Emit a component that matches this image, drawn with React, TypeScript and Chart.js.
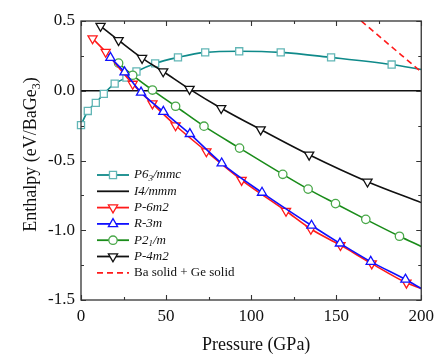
import React, { useEffect, useRef } from 'react';
import { Chart, registerables } from 'chart.js';

Chart.register(...registerables);

// ---------- data ----------
const xMin = 0, xMax = 200, xStep = 50, xMinor = 25;
const yMin = -1.5, yMax = 0.5, yStep = 0.5, yMinor = 0.25;

const p63Pressure = [0, 4, 8.7, 13.4, 19.8, 26.7, 32.6, 43.6, 57, 73, 93, 117.4, 147, 182.6];
const p63Enthalpy = [-0.246, -0.145, -0.087, -0.022, 0.051, 0.094, 0.138, 0.196, 0.239, 0.275, 0.283, 0.275, 0.239, 0.188];
const p63End = [200, 0.152];

const i4Pressure = [0, 200];
const i4Enthalpy = [0, 0];

const p6m2Pressure = [6.8, 14.5, 30.4, 42, 55.6, 73.7, 94.4, 120.5, 135.1, 152.5, 170.9, 191.3];
const p6m2Enthalpy = [0.375, 0.278, 0.049, -0.092, -0.249, -0.435, -0.64, -0.862, -0.991, -1.107, -1.239, -1.377];
const p6m2End = [200, -1.418];

const r3mPressure = [17.3, 25.6, 35.3, 48.4, 64, 82.7, 106.4, 135.5, 152.2, 170.3, 190.7];
const r3mEnthalpy = [0.237, 0.133, -0.012, -0.15, -0.309, -0.52, -0.73, -0.966, -1.094, -1.225, -1.353];
const r3mEnd = [200, -1.418];

const p21Pressure = [22.1, 30.4, 42, 55.6, 72.3, 93.2, 118.6, 133.5, 149.6, 167.4, 187.2];
const p21Enthalpy = [0.198, 0.111, 0.005, -0.111, -0.254, -0.411, -0.599, -0.705, -0.809, -0.922, -1.043];
const p21End = [200, -1.116];

const p4m2Pressure = [11.5, 22.1, 35.9, 48.3, 63.8, 82.4, 105.6, 134.1, 168.4];
const p4m2Enthalpy = [0.464, 0.362, 0.234, 0.138, 0.012, -0.125, -0.278, -0.459, -0.652];
const p4m2End = [200, -0.802];

const baGePressure = [164.7, 200];
const baGeEnthalpy = [0.5, 0.135];

const legendLabels = ['P6_3/mmc', 'I4/mmm', 'P-6m2', 'R-3m', 'P2_1/m', 'P-4m2', 'Ba solid + Ge solid'];
const xTitle = 'Pressure (GPa)';
const yTitle = 'Enthalpy (eV/BaGe_3)';

// ---------- styles ----------
const FONT = '"Liberation Serif", "Times New Roman", serif';
const TEAL = '#0f8a8a', TEAL_M = '#62b6b6';
const RED = '#ff1a1a', BLUE = '#1010ff', GREEN = '#1a8c1a', GREEN_M = '#4aa84a', BLACK = '#111';

type Marker = { style: 'rect' | 'triangle' | 'circle' | 'none'; r: number; rot: number; color: string };

const series: { label: string; px: number[]; py: number[]; end?: number[]; line: string; width: number; dash?: number[]; marker: Marker; order: number }[] = [
  { label: legendLabels[0], px: p63Pressure, py: p63Enthalpy, end: p63End, line: TEAL, width: 1.6, marker: { style: 'rect', r: 5, rot: 0, color: TEAL_M }, order: 5 },
  { label: legendLabels[1], px: i4Pressure, py: i4Enthalpy, line: BLACK, width: 1.6, marker: { style: 'none', r: 0, rot: 0, color: BLACK }, order: 6 },
  { label: legendLabels[2], px: p6m2Pressure, py: p6m2Enthalpy, end: p6m2End, line: RED, width: 1.6, marker: { style: 'triangle', r: 5.3, rot: 180, color: RED }, order: 2 },
  { label: legendLabels[3], px: r3mPressure, py: r3mEnthalpy, end: r3mEnd, line: BLUE, width: 1.6, marker: { style: 'triangle', r: 5.3, rot: 0, color: BLUE }, order: 1 },
  { label: legendLabels[4], px: p21Pressure, py: p21Enthalpy, end: p21End, line: GREEN, width: 1.6, marker: { style: 'circle', r: 4.2, rot: 0, color: GREEN_M }, order: 3 },
  { label: legendLabels[5], px: p4m2Pressure, py: p4m2Enthalpy, end: p4m2End, line: BLACK, width: 1.6, marker: { style: 'triangle', r: 5.3, rot: 180, color: BLACK }, order: 4 },
  { label: legendLabels[6], px: baGePressure, py: baGeEnthalpy, line: RED, width: 1.6, dash: [6, 4], marker: { style: 'none', r: 0, rot: 0, color: RED }, order: 0 },
];

function drawMarker(ctx: CanvasRenderingContext2D, m: Marker, x: number, y: number) {
  if (m.style === 'none') return;
  ctx.save();
  ctx.beginPath();
  if (m.style === 'rect') {
    const s = Math.SQRT1_2 * m.r;
    ctx.rect(x - s, y - s, 2 * s, 2 * s);
  } else if (m.style === 'circle') {
    ctx.arc(x, y, m.r, 0, Math.PI * 2);
  } else {
    let a = (m.rot * Math.PI) / 180;
    ctx.moveTo(x + Math.sin(a) * m.r, y - Math.cos(a) * m.r);
    a += (2 * Math.PI) / 3;
    ctx.lineTo(x + Math.sin(a) * m.r, y - Math.cos(a) * m.r);
    a += (2 * Math.PI) / 3;
    ctx.lineTo(x + Math.sin(a) * m.r, y - Math.cos(a) * m.r);
    ctx.closePath();
  }
  ctx.fillStyle = '#fff';
  ctx.fill();
  ctx.strokeStyle = m.color;
  ctx.lineWidth = 1.3;
  ctx.stroke();
  ctx.restore();
}

// draw text with "_d" subscripts; returns width
function drawRich(ctx: CanvasRenderingContext2D, text: string, x: number, y: number, size: number, italic: boolean, align: 'left' | 'center') {
  const parts: { t: string; sub: boolean }[] = [];
  const re = /_(\d)/g;
  let last = 0, m: RegExpExecArray | null;
  while ((m = re.exec(text))) {
    if (m.index > last) parts.push({ t: text.slice(last, m.index), sub: false });
    parts.push({ t: m[1], sub: true });
    last = m.index + m[0].length;
  }
  if (last < text.length) parts.push({ t: text.slice(last), sub: false });
  const fnt = (sub: boolean) => `${italic ? 'italic ' : ''}${sub ? Math.round(size * 0.68) : size}px ${FONT}`;
  let total = 0;
  for (const p of parts) { ctx.font = fnt(p.sub); total += ctx.measureText(p.t).width; }
  let cx = align === 'center' ? x - total / 2 : x;
  ctx.textBaseline = 'middle';
  ctx.textAlign = 'left';
  for (const p of parts) {
    ctx.font = fnt(p.sub);
    ctx.fillText(p.t, cx, p.sub ? y + size * 0.3 : y);
    cx += ctx.measureText(p.t).width;
  }
  return total;
}

const decor = {
  id: 'decor',
  afterDatasetsDraw(chart: any) {
    const { ctx, chartArea, scales } = chart;
    const { left, right, top, bottom } = chartArea;
    const xs = scales.x, ys = scales.y;
    ctx.save();
    ctx.strokeStyle = '#333';
    ctx.lineWidth = 1.3;
    ctx.strokeRect(left, top, right - left, bottom - top);
    ctx.lineWidth = 1.1;
    ctx.beginPath();
    for (let v = xMin; v <= xMax + 1e-9; v += xMinor) {
      const p = Math.round(xs.getPixelForValue(v)) + 0.5;
      const len = Math.abs(v % xStep) < 1e-9 ? 5 : 3;
      ctx.moveTo(p, bottom); ctx.lineTo(p, bottom - len);
      ctx.moveTo(p, top); ctx.lineTo(p, top + len);
    }
    for (let v = yMin; v <= yMax + 1e-9; v += yMinor) {
      const p = Math.round(ys.getPixelForValue(v)) + 0.5;
      const len = Math.abs((v - yMin) % yStep) < 1e-9 ? 5 : 3;
      ctx.moveTo(left, p); ctx.lineTo(left + len, p);
      ctx.moveTo(right, p); ctx.lineTo(right - len, p);
    }
    ctx.stroke();

    // legend
    ctx.fillStyle = '#111';
    const lx0 = left + 16, lx1 = left + 48, tx = left + 53;
    series.forEach((s, i) => {
      const yy = top + 154 + i * 16.3;
      ctx.save();
      ctx.strokeStyle = s.line;
      ctx.lineWidth = s.width + 0.2;
      if (s.dash) ctx.setLineDash(s.dash);
      ctx.beginPath(); ctx.moveTo(lx0, yy); ctx.lineTo(lx1, yy); ctx.stroke();
      ctx.restore();
      drawMarker(ctx, s.marker, (lx0 + lx1) / 2, yy);
      ctx.fillStyle = '#111';
      drawRich(ctx, s.label, tx, yy, 13, i < 6, 'left');
    });

    // axis titles
    drawRich(ctx, xTitle, (left + right) / 2 + 5, 345, 18, false, 'center');
    ctx.save();
    ctx.translate(31, (top + bottom) / 2 - 6);
    ctx.rotate(-Math.PI / 2);
    drawRich(ctx, yTitle, 0, 0, 18, false, 'center');
    ctx.restore();
    ctx.restore();
  },
};

export default function App() {
  const ref = useRef<HTMLCanvasElement>(null);
  useEffect(() => {
    document.body.style.margin = '0';
    const datasets = series.map((s) => {
      const pts = s.px.map((x, i) => ({ x, y: s.py[i] }));
      const nMarkers = s.marker.style === 'none' ? 0 : pts.length;
      if (s.end) pts.push({ x: s.end[0], y: s.end[1] });
      return {
        label: s.label,
        data: pts,
        borderColor: s.line,
        borderWidth: s.width,
        borderDash: s.dash || [],
        cubicInterpolationMode: 'monotone' as const,
        pointStyle: s.marker.style === 'none' ? false : s.marker.style,
        pointRotation: s.marker.rot,
        pointRadius: (c: any) => (c.dataIndex < nMarkers ? s.marker.r : 0),
        pointBorderColor: s.marker.color,
        pointBackgroundColor: '#fff',
        pointBorderWidth: 1.3,
        order: s.order,
        clip: s.label === legendLabels[0] ? false : undefined,
      };
    });
    const chart = new Chart(ref.current!, {
      type: 'line',
      data: { datasets: datasets as any },
      options: {
        animation: false,
        responsive: false,
        devicePixelRatio: 1,
        layout: { padding: { top: 21, right: 14, left: 0, bottom: 0 } },
        plugins: { legend: { display: false }, tooltip: { enabled: false } },
        scales: {
          x: {
            type: 'linear', min: xMin, max: xMax,
            grid: { display: false, drawTicks: false },
            border: { display: false },
            ticks: { stepSize: xStep, color: '#111', font: { family: FONT, size: 17 }, padding: 6, maxRotation: 0 },
            afterFit: (s: any) => { s.height = 54; },
          },
          y: {
            type: 'linear', min: yMin, max: yMax,
            grid: { display: false, drawTicks: false },
            border: { display: false },
            ticks: { stepSize: yStep, color: '#111', font: { family: FONT, size: 17 }, padding: 6, callback: (v: any) => Number(v).toFixed(1) },
            afterFit: (s: any) => { s.width = 81; },
          },
        },
      },
      plugins: [decor],
    });
    return () => chart.destroy();
  }, []);
  return (
    <div style={{ position: 'fixed', left: 0, top: 0, width: 440, height: 354, background: '#fff' }}>
      <canvas ref={ref} width={440} height={354} />
    </div>
  );
}
